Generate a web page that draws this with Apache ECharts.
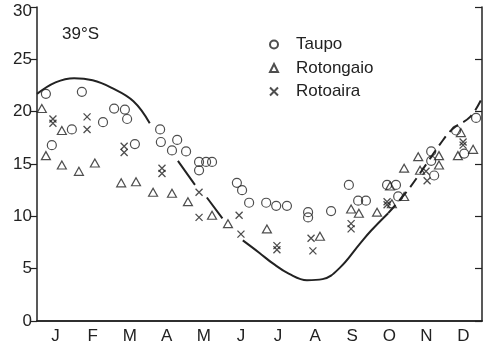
<!DOCTYPE html>
<html>
<head>
<meta charset="utf-8">
<script src="https://cdn.jsdelivr.net/npm/echarts@6/dist/echarts.min.js"></script>
<style>
  html, body { margin: 0; background: #fff; }
  #chart { width: 486px; height: 349px; }
</style>
</head>
<body>
<div id="chart"></div>
<script>
// month labels (centred in each month) and y ticks
const months = ['J', 'F', 'M', 'A', 'M', 'J', 'J', 'A', 'S', 'O', 'N', 'D'];
const yTicks = [0, 5, 10, 15, 20, 25, 30];

// Taupo (circles): position in months from 1 Jan, temperature
const taupoMonth = [0.24, 0.40, 0.94, 1.21, 1.78, 2.08, 2.37, 2.43, 2.64, 3.32, 3.34, 3.78, 3.64,
  4.02, 4.37, 4.37, 4.56, 4.72, 5.39, 5.53, 5.72, 6.18, 6.45, 6.74, 7.31, 7.31, 7.93, 8.41,
  8.66, 8.87, 9.44, 9.68, 9.74, 10.63, 10.63, 10.71, 11.30, 11.52, 11.84];
const taupoTemp = [21.7, 16.8, 18.3, 21.9, 19.0, 20.3, 20.2, 19.3, 16.9, 18.3, 17.1, 17.3, 16.3,
  16.2, 15.2, 14.4, 15.2, 15.2, 13.2, 12.5, 11.3, 11.3, 11.0, 11.0, 10.4, 9.9, 10.5, 13.0,
  11.5, 11.5, 13.0, 13.0, 11.9, 16.2, 15.3, 13.9, 18.2, 16.0, 19.4];

// Rotongaio (triangles)
const rotongaioMonth = [0.13, 0.24, 0.67, 0.67, 1.13, 1.56, 2.27, 2.67, 3.13, 3.64, 4.07, 4.72,
  5.15, 6.20, 7.63, 8.47, 8.68, 9.17, 9.52, 9.57, 9.90, 9.90, 10.28, 10.33, 10.84, 10.84,
  11.35, 11.43, 11.76];
const rotongaioTemp = [20.3, 15.8, 18.2, 14.9, 14.3, 15.1, 13.2, 13.3, 12.3, 12.2, 11.4, 10.1,
  9.3, 8.8, 8.1, 10.7, 10.3, 10.4, 12.9, 11.2, 11.9, 14.6, 15.7, 14.4, 15.8, 14.9,
  15.8, 18.0, 16.4];

// Rotoaira (crosses)
const rotoairaMonth = [0.43, 0.43, 1.35, 1.35, 2.35, 2.35, 3.37, 3.37, 4.37, 4.37, 5.45, 5.50,
  6.47, 6.47, 7.39, 7.44, 8.47, 8.47, 9.44, 9.44, 10.49, 10.52, 11.49, 11.49];
const rotoairaTemp = [19.3, 18.9, 19.5, 18.3, 16.7, 16.1, 14.6, 14.1, 12.3, 9.9, 10.1, 8.3,
  7.2, 6.8, 7.9, 6.7, 9.3, 8.8, 11.4, 11.1, 14.3, 13.4, 17.1, 16.8];

// air temperature curve, solid part (null = break in the line)
const curveMonth = [0, 0.5, 1.0, 1.5, 2.0, 2.6, 3.04, 3.4, 3.8, 4.26, 4.4, 4.58, 5.0, 5.3,
  5.55, 6.0, 6.36, 6.8, 7.28, 7.7, 8.17, 8.71, 9.0, 9.47];
const curveTemp = [21.7, 22.8, 23.2, 23.0, 22.3, 21.0, 18.9, null, 15.3, 13.0, null, 11.8, 9.8, null,
  7.7, 6.5, 5.5, 4.5, 3.9, 4.0, 5.1, 7.4, 8.6, 10.3];
// dashed part
const dashMonth = [9.47, 10.0, 10.5, 10.87, 11.22, 11.68, 12.0];
const dashTemp = [10.3, 12.5, 15.0, 16.9, 18.4, 19.5, 21.3];

const ink = '#222';
const font = 'Liberation Sans';

const pairs = (xs, ys) => xs.map((x, i) => [x, ys[i] === null ? '-' : ys[i]]);

const chart = echarts.init(document.getElementById('chart'));

const option = {
  backgroundColor: '#fff',
  animation: false,
  grid: { left: 37, right: 4, top: 7, bottom: 28 },
  legend: {
    orient: 'vertical',
    left: 264,
    top: 31,
    itemWidth: 8,
    itemHeight: 8,
    itemGap: 6.5,
    textStyle: { fontFamily: font, fontSize: 17, color: ink, padding: [0, 0, 0, 13] },
    data: ['Taupo', 'Rotongaio', 'Rotoaira']
  },
  graphic: [
    {
      type: 'text', left: 62, top: 26,
      style: { text: '39°S', font: '17px "Liberation Sans"', fill: ink }
    }
  ],
  xAxis: [
    {
      type: 'category', data: months, position: 'bottom', boundaryGap: true,
      axisLine: { lineStyle: { color: ink, width: 1.5 } },
      axisTick: { inside: true, length: 6, lineStyle: { color: ink, width: 1.2 } },
      axisLabel: { color: ink, fontFamily: font, fontSize: 17, margin: 7, interval: 0 }
    },
    {
      type: 'category', data: months, position: 'top', boundaryGap: true,
      axisLine: { lineStyle: { color: ink, width: 1.5 } },
      axisTick: { inside: true, length: 7, lineStyle: { color: ink, width: 1.2 } },
      axisLabel: { show: false }
    },
    { type: 'value', min: 0, max: 12, show: false }
  ],
  yAxis: [
    {
      type: 'value', min: yTicks[0], max: yTicks[yTicks.length - 1], interval: 5,
      axisLine: { show: true, lineStyle: { color: ink, width: 1.5 } },
      axisTick: { show: true, length: 7, lineStyle: { color: ink, width: 1.2 } },
      axisLabel: {
        color: ink, fontFamily: font, fontSize: 17, margin: 5,
        // top label sits a little lower than its tick in the original
        formatter: v => (v === 30 ? '{t|30}' : String(v)),
        rich: { t: { color: ink, fontFamily: font, fontSize: 17, padding: [8, 0, 0, 0] } }
      },
      splitLine: { show: false }
    },
    {
      type: 'value', min: yTicks[0], max: yTicks[yTicks.length - 1], interval: 5, position: 'right',
      axisLine: { show: true, lineStyle: { color: ink, width: 1.5 } },
      axisTick: { show: true, inside: true, length: 7, lineStyle: { color: ink, width: 1.2 } },
      axisLabel: { show: false },
      splitLine: { show: false }
    }
  ],
  series: [
    {
      name: 'curve', type: 'line', xAxisIndex: 2, yAxisIndex: 0,
      data: pairs(curveMonth, curveTemp), smooth: 0.4, showSymbol: false, symbol: 'none',
      connectNulls: false,
      lineStyle: { color: ink, width: 2 }
    },
    {
      name: 'curveDash', type: 'line', xAxisIndex: 2, yAxisIndex: 0,
      data: pairs(dashMonth, dashTemp), smooth: 0.4, showSymbol: false, symbol: 'none',
      lineStyle: { color: ink, width: 2, type: [11, 6] }
    },
    {
      name: 'Taupo', type: 'scatter', xAxisIndex: 2, yAxisIndex: 0,
      data: pairs(taupoMonth, taupoTemp),
      symbol: 'circle', symbolSize: 9,
      itemStyle: { color: 'rgba(255,255,255,0)', borderColor: ink, borderWidth: 1.2 }
    },
    {
      name: 'Rotongaio', type: 'scatter', xAxisIndex: 2, yAxisIndex: 0,
      data: pairs(rotongaioMonth, rotongaioTemp),
      symbol: 'triangle', symbolSize: [9, 8],
      itemStyle: { color: 'rgba(255,255,255,0)', borderColor: ink, borderWidth: 1.2 }
    },
    {
      name: 'Rotoaira', type: 'scatter', xAxisIndex: 2, yAxisIndex: 0,
      data: pairs(rotoairaMonth, rotoairaTemp),
      symbol: 'path://M0,0L10,10M10,0L0,10', symbolSize: 7,
      itemStyle: { color: 'rgba(255,255,255,0)', borderColor: ink, borderWidth: 1.3 }
    }
  ]
};

chart.setOption(option);
</script>
</body>
</html>
